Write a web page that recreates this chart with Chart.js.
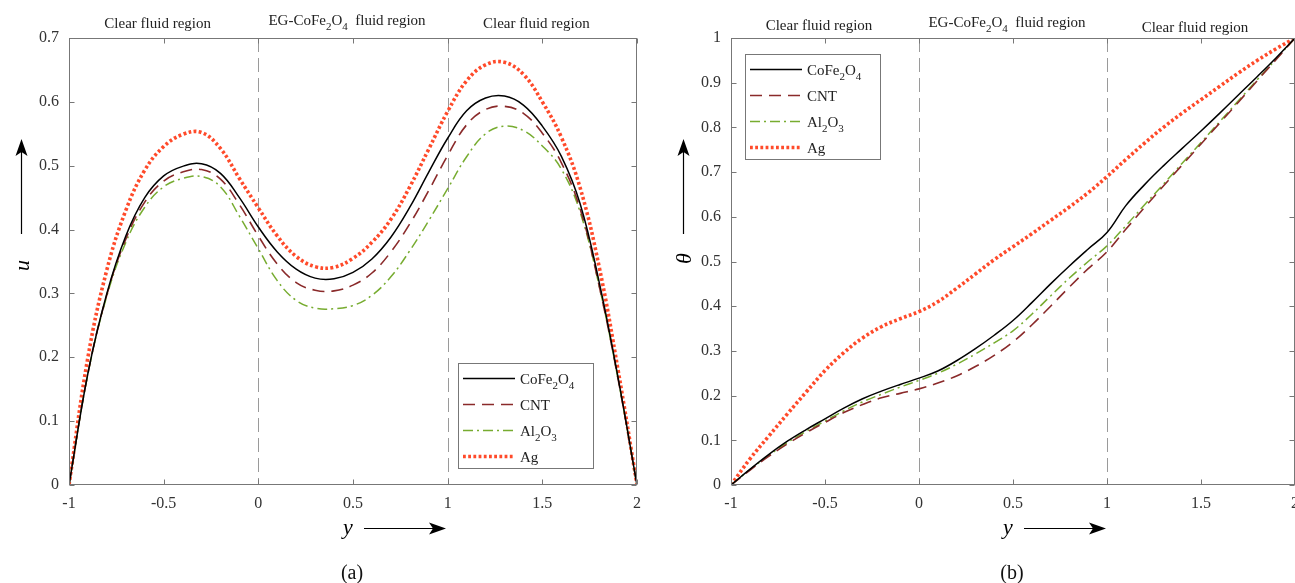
<!DOCTYPE html>
<html>
<head>
<meta charset="utf-8">
<script src="https://cdn.jsdelivr.net/npm/chart.js@4.4.0/dist/chart.umd.min.js"></script>
<style>
  html, body { margin: 0; padding: 0; background: #fff; overflow: hidden; }
  body { width: 1295px; height: 583px; position: relative; }
  .panel { position: absolute; top: 0; }
  #panelA { left: 0; }
  #panelB { left: 650px; }
</style>
</head>
<body>
<div class="panel" id="panelA"><canvas id="velChart" width="660" height="583"></canvas></div>
<div class="panel" id="panelB"><canvas id="tempChart" width="660" height="583"></canvas></div>
<script>
// position across the channel (clear fluid | EG-CoFe2O4 | clear fluid)
const yCoord = [-1, -0.9, -0.8, -0.7, -0.6, -0.5, -0.4, -0.3, -0.2, -0.1, 0, 0.1, 0.2, 0.3, 0.4, 0.5, 0.6, 0.7, 0.8, 0.9, 1, 1.1, 1.2, 1.3, 1.4, 1.5, 1.6, 1.7, 1.8, 1.9, 2];

// (a) velocity u
const uCoFe2O4 = [0, 0.175, 0.30, 0.39, 0.45, 0.484, 0.499, 0.503, 0.488, 0.45, 0.404, 0.365, 0.338, 0.324, 0.323, 0.333, 0.354, 0.388, 0.435, 0.49, 0.543, 0.586, 0.606, 0.609, 0.595, 0.562, 0.515, 0.44, 0.318, 0.168, 0];
const uCNT = [0, 0.175, 0.298, 0.385, 0.443, 0.476, 0.49, 0.494, 0.479, 0.439, 0.39, 0.346, 0.317, 0.305, 0.304, 0.313, 0.332, 0.365, 0.409, 0.461, 0.516, 0.564, 0.588, 0.593, 0.582, 0.551, 0.505, 0.432, 0.312, 0.166, 0];
const uAl2O3 = [0, 0.174, 0.296, 0.38, 0.435, 0.467, 0.48, 0.483, 0.467, 0.421, 0.37, 0.32, 0.289, 0.277, 0.276, 0.281, 0.297, 0.326, 0.367, 0.414, 0.464, 0.514, 0.55, 0.562, 0.555, 0.531, 0.495, 0.427, 0.312, 0.166, 0];
const uAg = [0, 0.20, 0.337, 0.43, 0.493, 0.53, 0.549, 0.552, 0.527, 0.48, 0.434, 0.39, 0.358, 0.342, 0.341, 0.355, 0.38, 0.416, 0.467, 0.526, 0.585, 0.633, 0.658, 0.662, 0.643, 0.60, 0.545, 0.465, 0.342, 0.18, 0];

// (b) temperature theta
const thetaCoFe2O4 = [0, 0.035, 0.068, 0.098, 0.124, 0.148, 0.172, 0.193, 0.21, 0.225, 0.239, 0.255, 0.278, 0.305, 0.335, 0.368, 0.408, 0.45, 0.49, 0.528, 0.565, 0.625, 0.672, 0.714, 0.753, 0.792, 0.832, 0.873, 0.914, 0.956, 1];
const thetaCNT = [0, 0.033, 0.064, 0.092, 0.117, 0.14, 0.162, 0.18, 0.195, 0.205, 0.215, 0.228, 0.244, 0.265, 0.29, 0.32, 0.358, 0.4, 0.443, 0.484, 0.522, 0.572, 0.621, 0.669, 0.716, 0.763, 0.81, 0.857, 0.905, 0.952, 1];
const thetaAl2O3 = [0, 0.034, 0.066, 0.095, 0.12, 0.143, 0.166, 0.186, 0.203, 0.219, 0.234, 0.25, 0.27, 0.293, 0.318, 0.345, 0.382, 0.423, 0.463, 0.5, 0.535, 0.58, 0.627, 0.673, 0.72, 0.766, 0.813, 0.86, 0.907, 0.953, 1];
const thetaAg = [0, 0.058, 0.109, 0.159, 0.208, 0.256, 0.296, 0.329, 0.354, 0.372, 0.388, 0.41, 0.44, 0.472, 0.504, 0.533, 0.562, 0.592, 0.622, 0.654, 0.69, 0.728, 0.765, 0.80, 0.832, 0.862, 0.892, 0.922, 0.95, 0.976, 1];

const xTicks = [-1, -0.5, 0, 0.5, 1, 1.5, 2];
const interfaces = [0, 1];
const regions = [[-1, 0], [0, 1], [1, 2]];
const regionLabels = ['Clear fluid region', 'EG-CoFe_2O_4  fluid region', 'Clear fluid region'];
const seriesNames = ['CoFe_2O_4', 'CNT', 'Al_2O_3', 'Ag'];

const serif = '"Liberation Serif", "Times New Roman", serif';
Chart.defaults.font.family = serif;
Chart.defaults.font.size = 16;
Chart.defaults.color = '#333';

const styles = [
  { borderColor: '#000000', borderWidth: 1.5, borderDash: [] },
  { borderColor: '#8a2a2a', borderWidth: 1.6, borderDash: [12, 7] },
  { borderColor: '#77ac30', borderWidth: 1.5, borderDash: [10, 4, 2, 4] },
  { borderColor: '#ff4a2a', borderWidth: 3.6, borderDash: [2.8, 2.4] }
];

function pts(xs, ys) {
  return xs.map((x, i) => ({ x: x, y: ys[i] }));
}

function makeSets(xs, lists) {
  return lists.map((ys, i) => Object.assign({
    label: seriesNames[i],
    data: pts(xs, ys),
    pointRadius: 0,
    fill: false,
    tension: 0.4,
    borderCapStyle: 'butt'
  }, styles[i]));
}

// text with "_n" subscripts
function richText(ctx, str, x, y, size, align) {
  const parts = str.split(/_(\d)/);
  const base = size + 'px ' + serif;
  const sub = Math.round(size * 0.72) + 'px ' + serif;
  let w = 0;
  parts.forEach((p, i) => { ctx.font = i % 2 ? sub : base; w += ctx.measureText(p).width; });
  let cx = align === 'center' ? x - w / 2 : x;
  ctx.textAlign = 'left';
  ctx.textBaseline = 'alphabetic';
  parts.forEach((p, i) => {
    ctx.font = i % 2 ? sub : base;
    ctx.fillText(p, cx, i % 2 ? y + size * 0.3 : y);
    cx += ctx.measureText(p).width;
  });
}

function arrowHead(ctx, x, y, dir) {
  // dir: 'up' or 'right'
  ctx.beginPath();
  if (dir === 'up') {
    ctx.moveTo(x, y);
    ctx.lineTo(x - 6, y + 17);
    ctx.lineTo(x, y + 13);
    ctx.lineTo(x + 6, y + 17);
  } else {
    ctx.moveTo(x, y);
    ctx.lineTo(x - 17, y - 6);
    ctx.lineTo(x - 13, y);
    ctx.lineTo(x - 17, y + 6);
  }
  ctx.closePath();
  ctx.fill();
}

const framePlugin = {
  id: 'frame',
  beforeDatasetsDraw(chart) {
    const { ctx, chartArea: a, scales: { x } } = chart;
    ctx.save();
    ctx.strokeStyle = '#9a9a9a';
    ctx.lineWidth = 1;
    ctx.setLineDash([14, 6]);
    interfaces.forEach(v => {
      const px = Math.round(x.getPixelForValue(v)) + 0.5;
      ctx.beginPath();
      ctx.moveTo(px, a.top);
      ctx.lineTo(px, a.bottom);
      ctx.stroke();
    });
    ctx.restore();
  },
  afterDatasetsDraw(chart, args, opts) {
    const { ctx, chartArea: a, scales: { x, y } } = chart;
    ctx.save();
    // box and inward ticks
    ctx.strokeStyle = '#777';
    ctx.lineWidth = 1;
    ctx.setLineDash([]);
    const L = Math.round(a.left) + 0.5, R = Math.round(a.right) - 0.5;
    const T = Math.round(a.top) + 0.5, B = Math.round(a.bottom) - 0.5;
    ctx.strokeRect(L, T, R - L, B - T);
    ctx.beginPath();
    x.ticks.forEach(t => {
      const px = Math.round(x.getPixelForValue(t.value)) + 0.5;
      ctx.moveTo(px, B); ctx.lineTo(px, B - 5);
      ctx.moveTo(px, T); ctx.lineTo(px, T + 5);
    });
    y.ticks.forEach(t => {
      const py = Math.round(y.getPixelForValue(t.value)) + 0.5;
      ctx.moveTo(L, py); ctx.lineTo(L + 5, py);
      ctx.moveTo(R, py); ctx.lineTo(R - 5, py);
    });
    ctx.stroke();

    // legend
    const lw = 135, lh = 105;
    const lx = opts.legendCorner === 'br' ? a.right - opts.legendDx - lw : a.left + opts.legendDx;
    const ly = opts.legendCorner === 'br' ? a.bottom - opts.legendDy - lh : a.top + opts.legendDy;
    ctx.fillStyle = '#fff';
    ctx.fillRect(lx, ly, lw, lh);
    ctx.strokeStyle = '#777';
    ctx.strokeRect(Math.round(lx) + 0.5, Math.round(ly) + 0.5, lw, lh);
    chart.data.datasets.forEach((ds, i) => {
      const ry = ly + 15.5 + i * 26;
      ctx.strokeStyle = ds.borderColor;
      ctx.lineWidth = ds.borderWidth;
      ctx.lineCap = 'butt';
      ctx.setLineDash(ds.borderDash);
      ctx.beginPath();
      ctx.moveTo(lx + 5, ry);
      ctx.lineTo(lx + 57, ry);
      ctx.stroke();
      ctx.fillStyle = '#222';
      richText(ctx, ds.label, lx + 62, ry + 5.5, 15, 'left');
    });
    ctx.setLineDash([]);

    // region labels
    ctx.fillStyle = '#222';
    regions.forEach((r, i) => {
      const cx = (x.getPixelForValue(r[0]) + x.getPixelForValue(r[1])) / 2 - 6;
      richText(ctx, regionLabels[i], cx, opts.regionBase[i], 15, 'center');
    });

    // vertical axis title with arrow
    const tx = a.left - 47.5;
    ctx.strokeStyle = '#000';
    ctx.fillStyle = '#000';
    ctx.lineWidth = 1.2;
    ctx.beginPath();
    ctx.moveTo(tx, a.top + 196);
    ctx.lineTo(tx, a.top + 110);
    ctx.stroke();
    arrowHead(ctx, tx, a.top + 101, 'up');
    ctx.save();
    ctx.translate(tx + 2, (a.top + a.bottom) / 2 + opts.titleDy);
    ctx.rotate(-Math.PI / 2);
    ctx.font = 'italic 22px ' + serif;
    ctx.textAlign = 'center';
    ctx.textBaseline = 'middle';
    ctx.fillText(opts.yTitle, 0, 0);
    ctx.restore();

    // horizontal axis title with arrow
    const mx = (a.left + a.right) / 2 - 1;
    ctx.font = 'italic 22px ' + serif;
    ctx.textAlign = 'center';
    ctx.textBaseline = 'alphabetic';
    ctx.fillText('y', mx - 4, a.bottom + 49);
    ctx.beginPath();
    ctx.moveTo(mx + 12, a.bottom + 43.5);
    ctx.lineTo(mx + 85, a.bottom + 43.5);
    ctx.stroke();
    arrowHead(ctx, mx + 94, a.bottom + 43.5, 'right');

    // panel caption
    ctx.font = '20px ' + serif;
    ctx.fillStyle = '#111';
    ctx.fillText(opts.caption, mx, a.bottom + 94);
    ctx.restore();
  }
};

function buildChart(id, lists, yMax, yAxisWidth, padRight, frameOpts) {
  return new Chart(document.getElementById(id), {
    type: 'line',
    data: { datasets: makeSets(yCoord, lists) },
    plugins: [framePlugin],
    options: {
      responsive: false,
      animation: false,
      events: [],
      layout: { padding: { top: 38, right: padRight, left: 0, bottom: 0 } },
      plugins: {
        legend: { display: false },
        tooltip: { enabled: false },
        frame: frameOpts
      },
      scales: {
        x: {
          type: 'linear',
          min: -1,
          max: 2,
          afterBuildTicks: s => { s.ticks = xTicks.map(v => ({ value: v })); },
          afterFit: s => { s.height = 98; },
          ticks: { padding: 9, maxRotation: 0, autoSkip: false, color: '#333',
                   callback: v => String(v) },
          grid: { display: false, drawTicks: false },
          border: { display: false }
        },
        y: {
          min: 0,
          max: yMax,
          afterFit: s => { s.width = yAxisWidth; },
          ticks: { stepSize: 0.1, padding: 10, color: '#333',
                   callback: v => String(Number(v.toFixed(1))) },
          grid: { display: false, drawTicks: false },
          border: { display: false }
        }
      }
    }
  });
}

buildChart('velChart', [uCoFe2O4, uCNT, uAl2O3, uAg], 0.7, 69, 23, {
  legendCorner: 'br', legendDx: 44, legendDy: 17,
  regionBase: [28, 25, 28], yTitle: 'u', titleDy: 4, caption: '(a)'
});

buildChart('tempChart', [thetaCoFe2O4, thetaCNT, thetaAl2O3, thetaAg], 1, 81, 15, {
  legendCorner: 'tl', legendDx: 14, legendDy: 16,
  regionBase: [30, 27, 32], yTitle: 'θ', titleDy: -3, caption: '(b)'
});
</script>
</body>
</html>
